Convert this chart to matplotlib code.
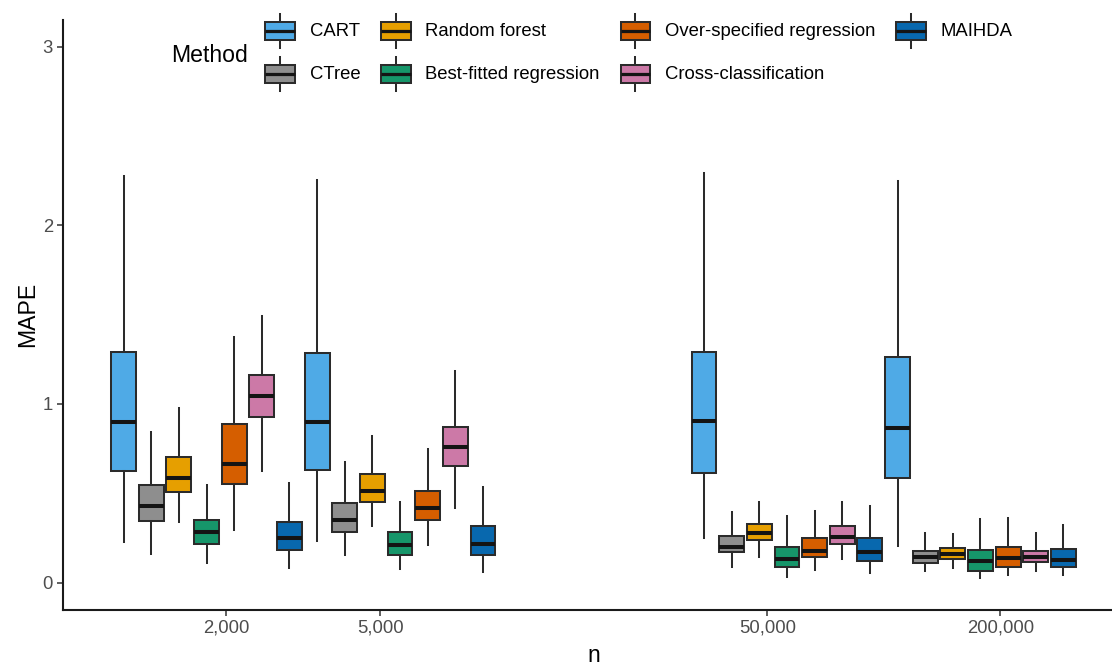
import numpy as np
import matplotlib
matplotlib.use("Agg")
import matplotlib.pyplot as plt
from matplotlib.patches import Rectangle, Patch
from matplotlib.lines import Line2D
from matplotlib.legend_handler import HandlerBase

plt.rcParams['font.family'] = ['Liberation Sans', 'DejaVu Sans']

# ---------------- data ----------------
methods = ["CART", "CTree", "Random forest", "Best-fitted regression",
           "Over-specified regression", "Cross-classification", "MAIHDA"]
n_values = [2000, 5000, 50000, 200000]
n_labels = ["2,000", "5,000", "50,000", "200,000"]
colors = ["#4FAAE6", "#8E8E8E", "#E69F00", "#16966A", "#D55E00", "#CC79A7", "#0868AE"]

# rows: methods; columns: n = 2000, 5000, 50000, 200000
whislo = [[0.226, 0.235, 0.248, 0.203],
          [0.160, 0.155, 0.086, 0.067],
          [0.338, 0.315, 0.142, 0.082],
          [0.110, 0.076, 0.030, 0.026],
          [0.297, 0.211, 0.071, 0.045],
          [0.627, 0.416, 0.132, 0.067],
          [0.080, 0.058, 0.052, 0.045]]
q1 = [[0.623, 0.632, 0.612, 0.586],
      [0.343, 0.282, 0.170, 0.108],
      [0.505, 0.450, 0.239, 0.132],
      [0.216, 0.157, 0.086, 0.067],
      [0.552, 0.351, 0.142, 0.086],
      [0.929, 0.655, 0.216, 0.118],
      [0.185, 0.157, 0.123, 0.090]]
med = [[0.897, 0.897, 0.903, 0.866],
       [0.427, 0.353, 0.198, 0.142],
       [0.586, 0.511, 0.278, 0.160],
       [0.282, 0.213, 0.132, 0.123],
       [0.664, 0.418, 0.175, 0.138],
       [1.043, 0.757, 0.254, 0.145],
       [0.248, 0.216, 0.173, 0.129]]
q3 = [[1.293, 1.285, 1.289, 1.261],
      [0.547, 0.446, 0.263, 0.179],
      [0.701, 0.608, 0.328, 0.192],
      [0.353, 0.282, 0.201, 0.185],
      [0.888, 0.515, 0.248, 0.201],
      [1.164, 0.873, 0.315, 0.179],
      [0.341, 0.315, 0.248, 0.189]]
whishi = [[2.278, 2.253, 2.290, 2.250],
          [0.841, 0.677, 0.397, 0.276],
          [0.977, 0.819, 0.449, 0.272],
          [0.547, 0.453, 0.371, 0.356],
          [1.377, 0.748, 0.399, 0.362],
          [1.494, 1.183, 0.449, 0.276],
          [0.558, 0.533, 0.431, 0.323]]

# ---------------- style ----------------
EDGE = "#2B2B2B"
MEDC = "#141414"
LW = 1.45
MLW = 2.9
FS_TICK = 13.3
FS_TITLE = 16.6

W, H = 1112, 667
fig = plt.figure(figsize=(W / 100, H / 100), dpi=100)
ax = fig.add_axes([63 / W, (H - 609.5) / H, (1124 - 63) / W, (609.5 - 19.8) / H])

# dodge layout: pairs of n values share a dodge cluster on a log10 axis
n_methods = len(methods)
log_n = np.log10(n_values)
dodge_width = 1.0
slots = 2 * n_methods
box_w = 0.9 * dodge_width / slots

for k in range(n_methods):
    stats, pos = [], []
    for j in range(len(n_values)):
        c = j // 2
        center = (log_n[2 * c] + log_n[2 * c + 1]) / 2
        i = (j % 2) * n_methods + k
        pos.append(center + (i - (slots - 1) / 2) * dodge_width / slots)
        stats.append(dict(whislo=whislo[k][j], q1=q1[k][j], med=med[k][j],
                          q3=q3[k][j], whishi=whishi[k][j], fliers=[]))
    ax.bxp(stats, positions=pos, widths=box_w, patch_artist=True,
           showcaps=False, showfliers=False, manage_ticks=False,
           boxprops=dict(facecolor=colors[k], edgecolor=EDGE, linewidth=LW),
           whiskerprops=dict(color=EDGE, linewidth=LW),
           medianprops=dict(color=MEDC, linewidth=MLW, solid_capstyle='butt'))

ax.set_xlim(2.879, 5.621)
ax.set_ylim(-0.15, 3.15)
ax.set_xticks(log_n)
ax.set_xticklabels(n_labels)
ax.set_yticks([0, 1, 2, 3])
ax.set_yticklabels(["0", "1", "2", "3"])
for s in ["top", "right"]:
    ax.spines[s].set_visible(False)
for s in ["left", "bottom"]:
    ax.spines[s].set_linewidth(1.5)
    ax.spines[s].set_color("#1A1A1A")
ax.tick_params(axis='both', length=4.3, width=1.1, color="#333333",
               labelcolor="#4D4D4D", labelsize=FS_TICK, pad=3)
ax.set_xlabel("n", fontsize=FS_TITLE, labelpad=5)
ax.set_ylabel("MAPE", fontsize=FS_TITLE, labelpad=2.5)


class BoxKeyHandler(HandlerBase):
    def create_artists(self, legend, orig_handle, xdescent, ydescent,
                       width, height, fontsize, trans):
        x0, y0 = -xdescent, -ydescent
        fc = orig_handle.get_facecolor()
        cx = x0 + width / 2
        cy = y0 + height / 2
        bh = 0.42 * height
        wh = 0.80 * height
        w1 = Line2D([cx, cx], [cy - wh / 2, cy - bh / 2],
                    color=EDGE, linewidth=LW, transform=trans)
        w2 = Line2D([cx, cx], [cy + bh / 2, cy + wh / 2],
                    color=EDGE, linewidth=LW, transform=trans)
        r = Rectangle((x0 + 0.1 * width, cy - bh / 2), 0.8 * width,
                      bh, facecolor=fc, edgecolor=EDGE,
                      linewidth=LW, transform=trans)
        m = Line2D([x0 + 0.1 * width, x0 + 0.9 * width],
                   [cy, cy], color=MEDC, linewidth=MLW * 0.8,
                   solid_capstyle='butt', transform=trans)
        return [w1, w2, r, m]


handles = [Patch(facecolor=c) for c in colors]
fig.legend(handles, methods, handler_map={Patch: BoxKeyHandler()},
           loc='center left', bbox_to_anchor=(261.5 / W, 1 - 52.5 / H),
           ncol=4, frameon=False, fontsize=FS_TICK, borderpad=0,
           borderaxespad=0, handlelength=2.0, handleheight=3.21,
           labelspacing=0.0, handletextpad=0.6, columnspacing=0.93)
fig.text(171 / W, 1 - 55 / H, "Method", fontsize=FS_TITLE, ha='left',
         va='center')

fig.savefig("out.png", dpi=100)
